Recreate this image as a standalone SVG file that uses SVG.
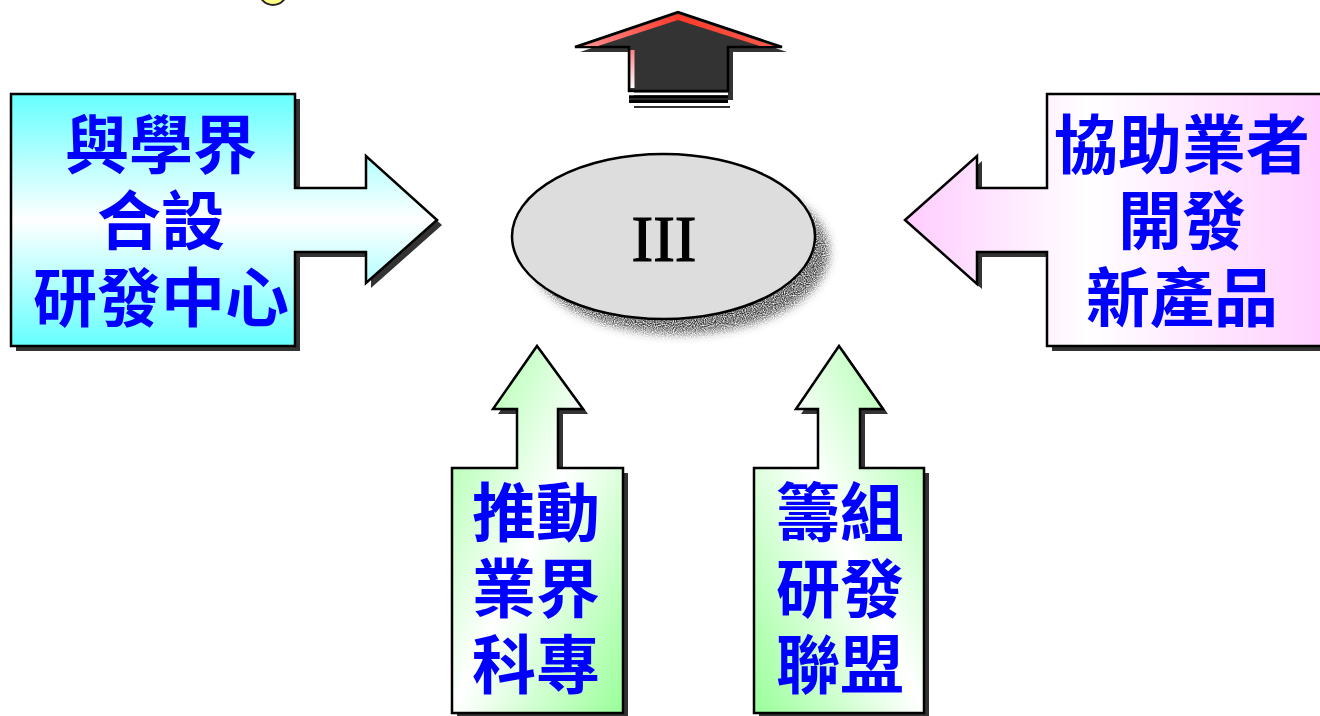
<svg xmlns="http://www.w3.org/2000/svg" width="1320" height="716" viewBox="0 0 1320 716">
<style>
.sh{fill:#333333;stroke:none}
.ol{stroke:#000000;stroke-width:2.5;stroke-linejoin:miter}
.lbl{font-family:"Noto Sans CJK TC","Noto Sans CJK SC",sans-serif;font-weight:bold;font-size:64px;fill:#0000FF;text-anchor:middle}
.iii{font-family:"Liberation Serif",serif;font-size:65px;fill:#000000;stroke:#000000;stroke-width:1.2;text-anchor:middle}
</style>
<defs>
<linearGradient id="gCyan" x1="0" y1="0" x2="0" y2="1">
<stop offset="0" stop-color="#66FFFF"/><stop offset="0.5" stop-color="#FFFFFF"/><stop offset="1" stop-color="#66FFFF"/>
</linearGradient>
<linearGradient id="gPink" x1="0" y1="0" x2="1" y2="0">
<stop offset="0" stop-color="#FFCCFF"/><stop offset="0.42" stop-color="#FFFFFF"/><stop offset="1" stop-color="#FFCCFF"/>
</linearGradient>
<linearGradient id="gGreenL" x1="0" y1="0" x2="1" y2="1">
<stop offset="0" stop-color="#99FF99"/><stop offset="0.5" stop-color="#FFFFFF"/><stop offset="1" stop-color="#99FF99"/>
</linearGradient>
<linearGradient id="gGreenR" x1="1" y1="0" x2="0" y2="1">
<stop offset="0" stop-color="#99FF99"/><stop offset="0.5" stop-color="#FFFFFF"/><stop offset="1" stop-color="#99FF99"/>
</linearGradient>
<linearGradient id="gRed" x1="0" y1="0" x2="1" y2="0">
<stop offset="0" stop-color="#FF9090"/><stop offset="0.5" stop-color="#FF3A2A"/><stop offset="1" stop-color="#FF5A4A"/>
</linearGradient>
<linearGradient id="gStrip" x1="0" y1="0" x2="0" y2="1">
<stop offset="0" stop-color="#FF8080"/><stop offset="1" stop-color="#FFFFFF"/>
</linearGradient>
<filter id="stip" x="-20%" y="-20%" width="140%" height="140%">
<feGaussianBlur in="SourceGraphic" stdDeviation="5" result="b"/>
<feTurbulence type="fractalNoise" baseFrequency="0.9" numOctaves="1" seed="3" result="n"/>
<feColorMatrix in="n" type="matrix" values="0 0 0 0 0  0 0 0 0 0  0 0 0 0 0  0 0 0 -2 1.6" result="na"/>
<feComposite in="b" in2="na" operator="in"/>
</filter>
</defs>

<g id="top-circle">
<circle cx="273" cy="-9" r="14" fill="#FFFF88" stroke="#222222" stroke-width="2"/>
</g>

<g id="top-arrow">
<path class="sh" d="M580,52 L683,17 L787,52 H733 V100 H634 V52 Z"/>
<rect x="634" y="106" width="96" height="2" fill="#333333"/>
<path d="M575,47 L678,12 L782,47 H728 V91 H629 V47 Z" fill="#333333" stroke="#000000" stroke-width="2.5"/>
<path d="M583,46 L678,14 L774,46 L760,46 L678,20 L598,46 Z" fill="url(#gRed)"/>
<rect x="630.5" y="50" width="4" height="38" fill="url(#gStrip)"/>
<rect x="629" y="92.7" width="99" height="2.6" fill="#FFFFFF"/>
<rect x="629" y="95.3" width="99" height="7.7" fill="#000000"/>
<rect x="629" y="98.5" width="99" height="1" fill="#555555"/>
</g>

<g id="node-left">
<path class="sh" d="M16,99 H300 V193 H371 V161 L442,225 L371,288 V257 H300 V351 H16 Z"/>
<path class="ol" fill="url(#gCyan)" d="M11,94 H295 V188 H366 V156 L437,220 L366,283 V252 H295 V346 H11 Z"/>
<text class="lbl"><tspan x="161" y="168">與學界</tspan><tspan x="161" y="244">合設</tspan><tspan x="161" y="321">研發中心</tspan></text>
</g>

<g id="node-right">
<path class="sh" d="M1052,99 H1345 V351 H1052 V257 H982 V289 L910,225 L982,161 V193 H1052 Z"/>
<path class="ol" fill="url(#gPink)" d="M1047,94 H1340 V346 H1047 V252 H977 V284 L905,220 L977,156 V188 H1047 Z"/>
<text class="lbl"><tspan x="1182" y="168">協助業者</tspan><tspan x="1182" y="244">開發</tspan><tspan x="1182" y="321">新產品</tspan></text>
</g>

<g id="node-center">
<ellipse cx="679" cy="252" rx="150" ry="82" fill="#333333" filter="url(#stip)"/>
<ellipse cx="663.5" cy="236.5" rx="151.5" ry="82.5" fill="#DDDDDD" stroke="#000000" stroke-width="2.5"/>
<text class="iii" x="664" y="261">III</text>
</g>

<g id="node-bottom-left">
<path class="sh" d="M457,473 H522 V414 H498 L542,351 L588,414 H563 V473 H628 V718 H457 Z"/>
<path class="ol" fill="url(#gGreenL)" d="M452,468 H517 V409 H493 L537,346 L583,409 H558 V468 H623 V713 H452 Z"/>
<text class="lbl"><tspan x="536" y="536">推動</tspan><tspan x="536" y="612">業界</tspan><tspan x="536" y="688">科專</tspan></text>
</g>

<g id="node-bottom-right">
<path class="sh" d="M759,473 H823 V414 H801 L844,351 L888,414 H865 V473 H929 V718 H759 Z"/>
<path class="ol" fill="url(#gGreenR)" d="M754,468 H818 V409 H796 L839,346 L883,409 H860 V468 H924 V713 H754 Z"/>
<text class="lbl"><tspan x="840" y="536">籌組</tspan><tspan x="840" y="612">研發</tspan><tspan x="840" y="688">聯盟</tspan></text>
</g>

<g id="connectors"></g>
</svg>
